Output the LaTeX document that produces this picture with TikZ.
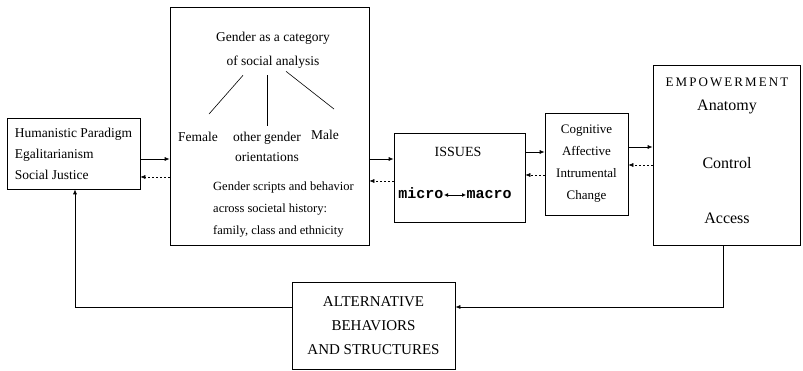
\documentclass[tikz,border=0pt]{standalone}
\usepackage{fontspec}
\setmainfont{Liberation Serif}
\setmonofont{Liberation Mono}
\usetikzlibrary{positioning, calc, arrows.meta}
\tikzstyle{Flow} = [
%solid forward arrow:
line width=0.7pt,
-{Latex[length=5pt, width=4pt]}
]
\tikzstyle{Feedback} = [
%dotted backward arrow:
line width=0.5pt, dash pattern=on 2pt off 2pt,
-{Latex[length=5pt, width=4pt]}
]

\begin{document}
\begin{tikzpicture}[x=1pt, y=1pt,
			box/.style = {rectangle, draw, line width=0.7pt, inner sep=0pt, text centered},
			txt/.style = {align=center, inner sep=1pt, font=\fontsize{13.5}{20}\selectfont},
			big/.style = {inner sep=1pt, font=\fontsize{16}{18}\selectfont},
			levelword/.style = {inner sep=0.5pt, text height=8pt, text depth=0pt, font=\ttfamily\bfseries\fontsize{15}{18}\selectfont},
		]
		\useasboundingbox (0,0) rectangle (803,371);

		\node[box, minimum width=133, minimum height=71, align=left, font=\fontsize{13.5}{21}\selectfont](hum) at (73.5,217.5){Humanistic Paradigm\\Egalitarianism\\Social Justice};

		\node[box, minimum width=199, minimum height=238](gen) at (269.5,245){};
		\node[txt, font=\fontsize{13.5}{24}\selectfont](cat) at (273,321){Gender as a category\\of social analysis};
		\node[txt](fem) at (198,234){Female};
		\node[txt](oth) at (267,224){other gender\\orientations};
		\node[txt](male) at (325,236){Male};
		\node[txt, align=left, anchor=west, font=\fontsize{12.5}{22}\selectfont](scr) at (212,161){Gender scripts and behavior\\across societal history:\\family, class and ethnicity};

		\draw[line width=0.6pt]([xshift=-30pt, yshift=-6pt]cat.south)--([xshift=11pt, yshift=17pt]fem.north);
		\draw[line width=0.6pt]([xshift=-6pt, yshift=-6pt]cat.south)--([yshift=5pt]oth.north);
		\draw[line width=0.6pt]([xshift=13pt, yshift=-2pt]cat.south)--([xshift=9pt, yshift=20pt]male.north);

		\node[box, minimum width=131, minimum height=89](iss) at (459.5,193.5){};
		\node[inner sep=1pt, font=\fontsize{14}{16}\selectfont](isst) at (458,219){ISSUES};
		\node[levelword, anchor=east](micro) at (444,176){micro};
		\node[levelword, anchor=west](macro) at (466,176){macro};
		\draw[{Latex[length=4pt, width=4pt]}-{Latex[length=4pt, width=4pt]}, line width=0.8pt](micro)--(macro);

		\node[box, minimum width=83, minimum height=102, align=center, font=\fontsize{13}{22}\selectfont](cog) at (586.5,207){Cognitive\\Affective\\Intrumental\\Change};

		\node[box, minimum width=147, minimum height=180](emp) at (726.5,216){};
		\node[inner sep=1pt, font=\fontsize{13}{15}\selectfont\addfontfeatures{LetterSpace=16}](empt) at (727,289){EMPOWERMENT};
		\node[big](anat) at (727,264){Anatomy};
		\node[big](ctrl) at (727,208){Control};
		\node[big](acc) at (727,153){Access};

		\node[box, minimum width=163, minimum height=87, align=center, font=\fontsize{15}{24}\selectfont](alt) at (373.5,45.5){ALTERNATIVE\\BEHAVIORS\\AND STRUCTURES};

		\draw[Flow]($(hum.east)+(0,-5.5)$)--($(gen.west |- hum.east)+(0,-5.5)$);
		\draw[Feedback]($(gen.west |- hum.east)+(0,-23.5)$)--($(hum.east)+(0,-23.5)$);
		\draw[Flow]($(gen.east |- iss.west)+(0,18.5)$)--($(iss.west)+(0,18.5)$);
		\draw[Feedback]($(iss.west)+(0,-3.5)$)--($(gen.east |- iss.west)+(0,-3.5)$);
		\draw[Flow]($(iss.east)+(0,25.5)$)--($(cog.west |- iss.east)+(0,25.5)$);
		\draw[Feedback]($(cog.west |- iss.east)+(0,2.5)$)--($(iss.east)+(0,2.5)$);
		\draw[Flow]($(cog.east)+(0,17)$)--($(emp.west |- cog.east)+(0,17)$);
		\draw[Feedback]($(emp.west |- cog.east)+(0,-1)$)--($(cog.east)+(0,-1)$);

		\draw[Flow]([xshift=-3pt]emp.south)|-($(alt.east)+(0,18.5)$);
		\draw[Flow]($(alt.west)+(0,18.5)$)-|([xshift=1.5pt]hum.south);

	\end{tikzpicture}
\end{document}
